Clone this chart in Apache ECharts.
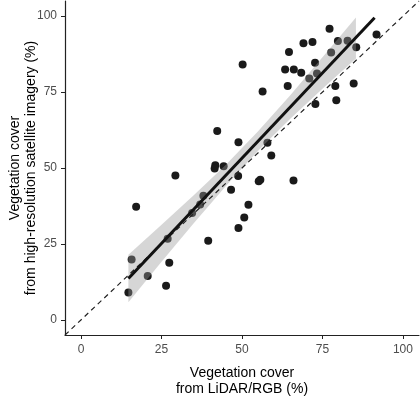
<!DOCTYPE html>
<html>
<head>
<meta charset="utf-8">
<script src="https://cdn.jsdelivr.net/npm/echarts@6/dist/echarts.min.js"></script>
<style>
  html, body { margin: 0; padding: 0; background: #fff; }
  #chart { width: 420px; height: 397px; }
</style>
</head>
<body>
<div id="chart"></div>
<script>
// vegetation cover, LiDAR/RGB (x) vs satellite imagery (y)
const lidarCover = [77.2, 91.8, 69.1, 71.9, 79.8, 82.8, 85.5, 64.6, 77.7, 72.7,
  50.2, 63.4, 66.1, 68.4, 73.3, 70.9, 56.4, 64.2, 79.0, 84.7,
  79.3, 72.8, 42.3, 48.9, 57.9, 59.1, 41.7, 41.5, 44.3, 48.8,
  55.2, 55.7, 66.0, 46.6, 38.0, 29.3, 17.1, 37.0, 34.5, 52.0,
  50.7, 48.9, 39.5, 26.9, 15.7, 27.4, 20.7, 26.4, 14.7]
const satCover = [95.9, 94.0, 91.1, 91.5, 91.8, 91.9, 89.8, 88.2, 88.0, 84.7,
  84.1, 82.4, 82.4, 81.4, 81.1, 79.5, 75.2, 77.0, 77.0, 77.8,
  72.3, 71.1, 62.2, 58.5, 58.3, 54.1, 50.9, 49.8, 50.6, 47.4,
  45.6, 46.1, 45.9, 42.8, 40.9, 47.5, 37.2, 38.0, 35.2, 37.9,
  33.7, 30.2, 26.0, 26.7, 19.9, 18.8, 14.4, 11.2, 9.0]

// fitted line end points
const fitX = [14.7, 91.2]
const fitY = [13.6, 99.5]

// confidence band edges
const bandX = [14.7, 25, 35, 45, 55, 65, 75, 85.4]
const bandLow = [5.8, 19.1, 31.8, 44.1, 55.7, 66.2, 76.1, 86.1]
const bandHigh = [21.4, 31.3, 41.0, 51.1, 62.1, 74.0, 86.5, 99.6]

// 1:1 reference line
const refLine = [-5, 105]

const ticks = [0, 25, 50, 75, 100]

const font = 'Liberation Sans, Arial, sans-serif'

const axisCommon = {
  type: 'value',
  min: -5,
  max: 105,
  nameLocation: 'middle',
  nameMoveOverlap: false,
  nameTextStyle: { color: '#000', fontSize: 14, lineHeight: 16, fontFamily: font },
  axisLine: { onZero: false, lineStyle: { color: '#222', width: 1.2 } },
  axisTick: { length: 4, customValues: ticks, lineStyle: { color: '#222', width: 1 } },
  axisLabel: { customValues: ticks, color: '#4d4d4d', fontSize: 12, fontFamily: font },
  splitLine: { show: false }
}

const chart = echarts.init(document.getElementById('chart'))
chart.setOption({
  animation: false,
  grid: { left: 65, right: 1, top: 1, bottom: 62, containLabel: false, outerBoundsMode: 'none' },
  xAxis: Object.assign({}, axisCommon, {
    name: 'Vegetation cover\nfrom LiDAR/RGB (%)',
    nameGap: 30,
    axisLabel: Object.assign({}, axisCommon.axisLabel, { margin: 9 })
  }),
  yAxis: Object.assign({}, axisCommon, {
    name: 'Vegetation cover\nfrom high-resolution satellite imagery (%)',
    nameGap: 26,
    axisLabel: Object.assign({}, axisCommon.axisLabel, { margin: 8 })
  }),
  series: [
    {
      type: 'scatter',
      data: lidarCover.map((x, i) => [x, satCover[i]]),
      symbolSize: 8,
      itemStyle: { color: '#1a1a1a', opacity: 1 },
      z: 2
    },
    {
      type: 'custom',
      data: [[0, 0]],
      z: 3,
      renderItem: function (params, api) {
        const pts = []
        for (let i = 0; i < bandX.length; i++) pts.push(api.coord([bandX[i], bandHigh[i]]))
        for (let i = bandX.length - 1; i >= 0; i--) pts.push(api.coord([bandX[i], bandLow[i]]))
        return {
          type: 'polygon',
          shape: { points: pts },
          style: { fill: 'rgba(153,153,153,0.4)' }
        }
      }
    },
    {
      type: 'line',
      data: refLine.map(v => [v, v]),
      symbol: 'none',
      lineStyle: { color: '#222', width: 1.2, type: [5, 4] },
      z: 4
    },
    {
      type: 'line',
      data: fitX.map((x, i) => [x, fitY[i]]),
      symbol: 'none',
      lineStyle: { color: '#111', width: 3 },
      z: 5
    }
  ]
})
</script>
</body>
</html>
